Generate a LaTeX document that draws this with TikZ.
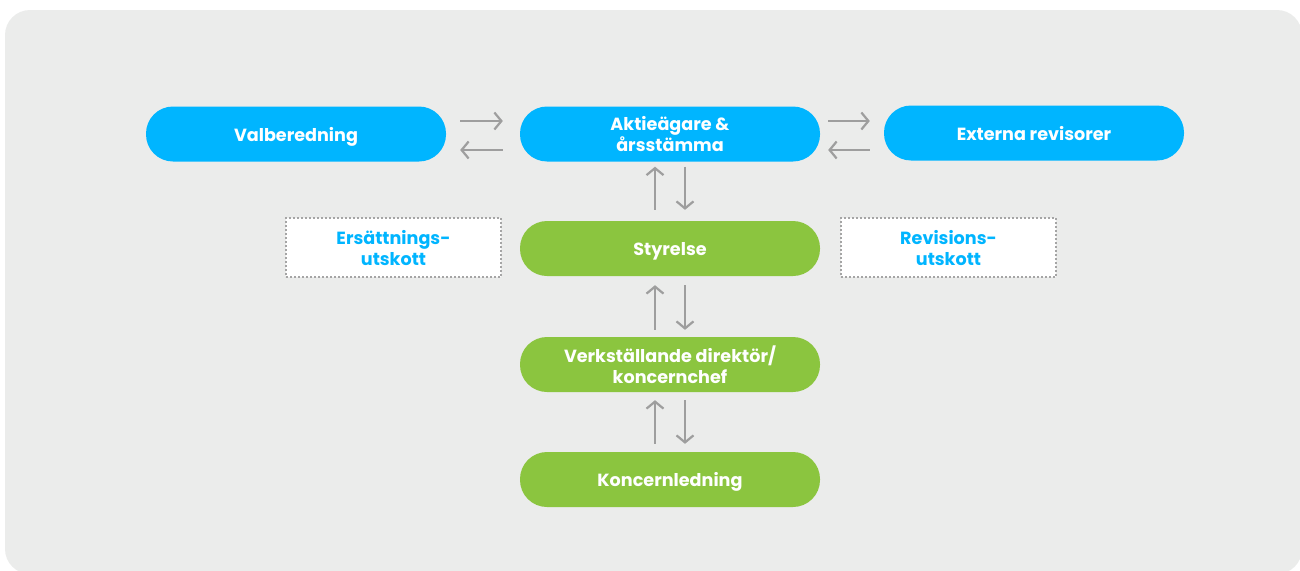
\documentclass[tikz,border=0pt]{standalone}
\usepackage{fontspec}
\setmainfont{Poppins}
\usetikzlibrary{arrows.meta,calc}
\definecolor{bgc}{HTML}{EBECEB}
\definecolor{cyanb}{HTML}{00B5FF}
\definecolor{greenb}{HTML}{8BC53F}
\definecolor{arrc}{HTML}{9E9E9E}
\definecolor{dotc}{HTML}{A5A5A5}
\newcommand\ptxt[1]{\raisebox{-7.4pt}[0pt][0pt]{\begin{tabular}{@{}c@{}}#1\end{tabular}}}
\tikzset{
  pill/.style={rectangle, rounded corners=27pt, minimum width=300pt, minimum height=55pt,
    inner sep=0pt, text=white, font=\fontsize{17.6}{21}\selectfont\bfseries},
  bluepill/.style={pill, fill=cyanb},
  greenpill/.style={pill, fill=greenb},
  dotbox/.style={rectangle, fill=white, draw=dotc, line width=1.6pt,
    dash pattern=on 1.6pt off 2.4pt, minimum width=215pt, minimum height=59pt,
    inner sep=0pt, text=cyanb, font=\fontsize{17.6}{21}\selectfont\bfseries},
  arr/.style={draw=arrc, line width=2.2pt, -{Straight Barb[length=7pt,width=17pt,line width=2.2pt]}}
}
\begin{document}
\begin{tikzpicture}[x=1pt,y=-1pt]
\useasboundingbox (0,0) rectangle (1300,570);
\fill[bgc, rounded corners=25pt] (5,10) rectangle (1302,574);

\node[bluepill] (val) at (296,134) {\ptxt{Valberedning}};
\node[bluepill] (akt) at (670,134) {\ptxt{Aktieägare \&\\årsstämma}};
\node[bluepill] (ext) at (1034,133) {\ptxt{Externa revisorer}};
\node[greenpill] (sty) at (670,248.5) {\ptxt{Styrelse}};
\node[greenpill] (vd) at (670,364.5) {\ptxt{Verkställande direktör/\\koncernchef}};
\node[greenpill] (kon) at (670,479.5) {\ptxt{Koncernledning}};
\node[dotbox] (ers) at (393.5,247.5) {\ptxt{Ersättnings-\\utskott}};
\node[dotbox] (rev) at (948.5,247.5) {\ptxt{Revisions-\\utskott}};

% horizontal arrows
\draw[arr] ($(val.east)+(14,-13)$) -- ($(akt.west)+(-17,-13)$);
\draw[arr] ($(akt.west)+(-17,16)$) -- ($(val.east)+(14,16)$);
\draw[arr] ($(akt.east)+(8,-13)$) -- ($(ext.west)+(-14,-12)$);
\draw[arr] ($(ext.west)+(-14,17)$) -- ($(akt.east)+(8,16)$);

% vertical arrows
\draw[arr] ($(sty.north)+(-15,-11)$) -- ($(akt.south)+(-15,5)$);
\draw[arr] ($(akt.south)+(15,5)$) -- ($(sty.north)+(15,-11)$);
\draw[arr] ($(vd.north)+(-15,-7)$) -- ($(sty.south)+(-15,9)$);
\draw[arr] ($(sty.south)+(15,9)$) -- ($(vd.north)+(15,-7)$);
\draw[arr] ($(kon.north)+(-15,-8)$) -- ($(vd.south)+(-15,8)$);
\draw[arr] ($(vd.south)+(15,8)$) -- ($(kon.north)+(15,-8)$);
\end{tikzpicture}
\end{document}
